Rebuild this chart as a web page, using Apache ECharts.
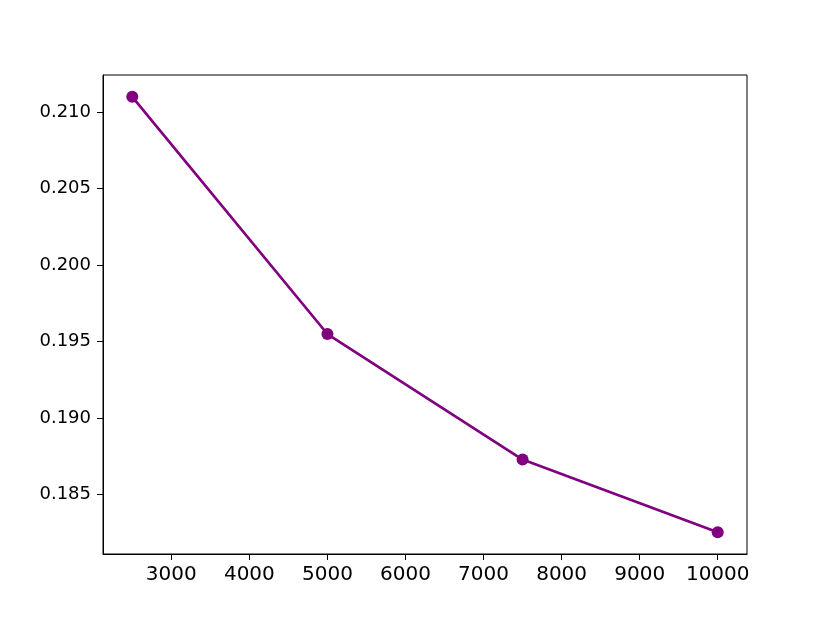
<!DOCTYPE html>
<html>
<head>
<meta charset="utf-8">
<script src="https://cdn.jsdelivr.net/npm/echarts@6/dist/echarts.min.js"></script>
<style>html,body{margin:0;padding:0;background:#fff;}#c{width:830px;height:623px;}</style>
</head>
<body>
<div id="c"></div>
<script>
const xValues = [2500, 5000, 7500, 10000];
const yValues = [0.2110, 0.1955, 0.1873, 0.18255];
const xTicks = [3000, 4000, 5000, 6000, 7000, 8000, 9000, 10000];
const yTicks = [0.185, 0.190, 0.195, 0.200, 0.205, 0.210];

const xSpan = xValues[xValues.length - 1] - xValues[0];
const xMin = xValues[0] - 0.05 * xSpan, xMax = xValues[xValues.length - 1] + 0.05 * xSpan;
const yLo = Math.min(...yValues), yHi = Math.max(...yValues);
const yMin = yLo - 0.05 * (yHi - yLo), yMax = yHi + 0.05 * (yHi - yLo);

const chart = echarts.init(document.getElementById('c'), null, {renderer: 'canvas'});
chart.setOption({
  animation: false,
  backgroundColor: '#ffffff',
  grid: {left: 103, right: 83, top: 75, bottom: 69, show: true, borderColor: '#000', borderWidth: 1, backgroundColor: 'transparent'},
  xAxis: {
    type: 'value', min: xMin, max: xMax,
    splitLine: {show: false},
    axisLine: {show: true, onZero: false, lineStyle: {color: '#000', width: 1}},
    axisTick: {show: true, length: 6, lineStyle: {color: '#000', width: 1}, customValues: xTicks},
    axisLabel: {color: '#000', fontSize: 20, fontFamily: 'DejaVu Sans', margin: 11, customValues: xTicks,
      formatter: v => String(Math.round(v))}
  },
  yAxis: {
    type: 'value', min: yMin, max: yMax,
    splitLine: {show: false},
    axisLine: {show: true, onZero: false, lineStyle: {color: '#000', width: 1}},
    axisTick: {show: true, length: 6, lineStyle: {color: '#000', width: 1}, customValues: yTicks},
    axisLabel: {color: '#000', fontSize: 18, fontFamily: 'DejaVu Sans', margin: 12, customValues: yTicks,
      formatter: v => v.toFixed(3)}
  },
  series: [{
    type: 'line',
    data: xValues.map((x, i) => [x, yValues[i]]),
    symbol: 'circle', symbolSize: 12,
    lineStyle: {color: '#800080', width: 2.7},
    itemStyle: {color: '#800080'},
    z: 3
  }]
});
</script>
</body>
</html>
